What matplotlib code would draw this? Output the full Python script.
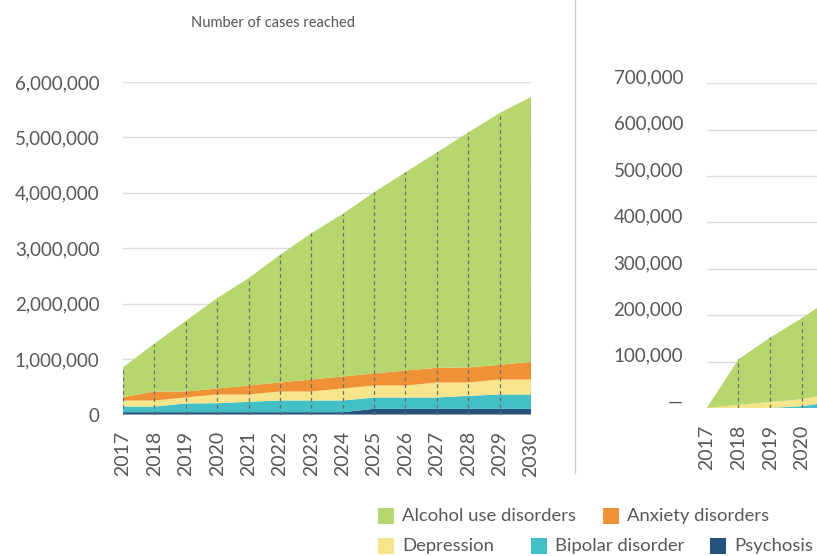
import matplotlib
matplotlib.use("Agg")
import matplotlib.pyplot as plt
import matplotlib.transforms as mtransforms
from matplotlib.lines import Line2D
from matplotlib.patches import Rectangle
from matplotlib.ticker import FuncFormatter

plt.rcParams["font.family"] = ["Lato", "DejaVu Sans"]

# Cases reached per year, stacked from bottom to top
years = list(range(2017, 2031))
psychosis = [42000] * 8 + [102000] * 6
bipolar = [102000, 102000, 157000, 163000, 187000, 211000, 211000,
           211000, 205000, 205000, 205000, 235000, 259000, 259000]
depression = [109000, 109000, 108000, 156000, 132000, 162000, 162000,
              216000, 216000, 216000, 271000, 241000, 271000, 271000]
anxiety = [60000, 162000, 108000, 108000, 162000, 163000, 217000,
           217000, 217000, 271000, 264000, 270000, 265000, 319000]
alcohol = [537000, 865000, 1275000, 1631000, 1937000, 2302000, 2638000,
           2934000, 3270000, 3576000, 3888000, 4242000, 4543000, 4779000]

# Second panel (only its first years fit on the page)
years_r = [2017, 2018, 2019, 2020, 2021]
psychosis_r = [0, 0, 0, 0, 0]
bipolar_r = [0, 0, 0, 4000, 14000]
depression_r = [0, 7000, 13000, 15000, 18000]
anxiety_r = [0, 0, 0, 0, 0]
alcohol_r = [0, 98000, 139000, 175000, 208000]

names = ["Psychosis", "Bipolar disorder", "Depression",
         "Anxiety disorders", "Alcohol use disorders"]
colors = ["#26537e", "#43c0c6", "#f7e58b", "#ef9236", "#b6d76e"]

left_ticks = [0, 1e6, 2e6, 3e6, 4e6, 5e6, 6e6]
right_ticks = [0, 1e5, 2e5, 3e5, 4e5, 5e5, 6e5, 7e5]

TXT = "#575757"
W, H = 817, 556
fig = plt.figure(figsize=(W / 100, H / 100), dpi=100)


def px_box(x0, x1, y_top, y_bot):
    return [x0 / W, 1 - y_bot / H, (x1 - x0) / W, (y_bot - y_top) / H]


def style_axes(ax, xticks, yticks, yfmt):
    for s in ax.spines.values():
        s.set_visible(False)
    ax.set_yticks(yticks)
    ax.yaxis.set_major_formatter(FuncFormatter(yfmt))
    ax.grid(axis="y", color="#dcdcdc", lw=1)
    ax.set_axisbelow(True)
    ax.set_xticks(xticks)
    ax.tick_params(axis="x", length=0, pad=12, labelrotation=90,
                   labelsize=14, labelcolor=TXT)
    ax.tick_params(axis="y", length=0, pad=17, labelsize=13.5, labelcolor=TXT)


def draw(ax, xs, series):
    ax.stackplot(xs, *series, colors=colors, lw=0)
    totals = [sum(v) for v in zip(*series)]
    ax.vlines(xs, 0, totals, colors="#6b6b6b", lw=0.9,
              linestyles=(0, (3, 2.5)), zorder=3)


# Left panel
ax1 = fig.add_axes(px_box(123, 531, 82, 414.5))
draw(ax1, years, [psychosis, bipolar, depression, anxiety, alcohol])
style_axes(ax1, years, left_ticks, lambda v, p: f"{int(v):,}")
ax1.set_xlim(2017, 2030)
ax1.set_ylim(0, 6e6)

# Right panel, running off the edge of the page
ax2 = fig.add_axes(px_box(706.7, 706.7 + 13 * 31.8, 83.3, 408))
draw(ax2, years_r, [psychosis_r, bipolar_r, depression_r, anxiety_r, alcohol_r])
style_axes(ax2, years_r[:-1], right_ticks,
           lambda v, p: "—" if v == 0 else f"{int(v):,}")
ax2.set_xlim(2017, 2030)
ax2.set_ylim(0, 7e5)
shift = mtransforms.ScaledTranslation(0, 5 / 72, fig.dpi_scale_trans)
for lab in ax2.get_yticklabels():
    lab.set_transform(lab.get_transform() + shift)

fig.text(273 / W, 1 - 23 / H, "Number of cases reached", ha="center",
         va="center", fontsize=10.5, color="#555555")

# divider between the panels
fig.add_artist(Line2D([574.5 / W] * 2, [1, 1 - 473 / H], color="#cfcfcf", lw=1))

# legend, two rows
legend_items = [
    ("Alcohol use disorders", colors[4], 378, 516),
    ("Anxiety disorders", colors[3], 603, 516),
    ("Depression", colors[2], 378, 546),
    ("Bipolar disorder", colors[1], 531, 546),
    ("Psychosis", colors[0], 710, 546),
]
for label, c, x, y in legend_items:
    fig.add_artist(Rectangle((x / W, 1 - (y + 8) / H), 16 / W, 16 / H,
                             transform=fig.transFigure, color=c, lw=0))
    fig.text((x + 24) / W, 1 - y / H, label, ha="left", va="center",
             fontsize=13.3, color=TXT)

plt.savefig("out.png", dpi=100)
